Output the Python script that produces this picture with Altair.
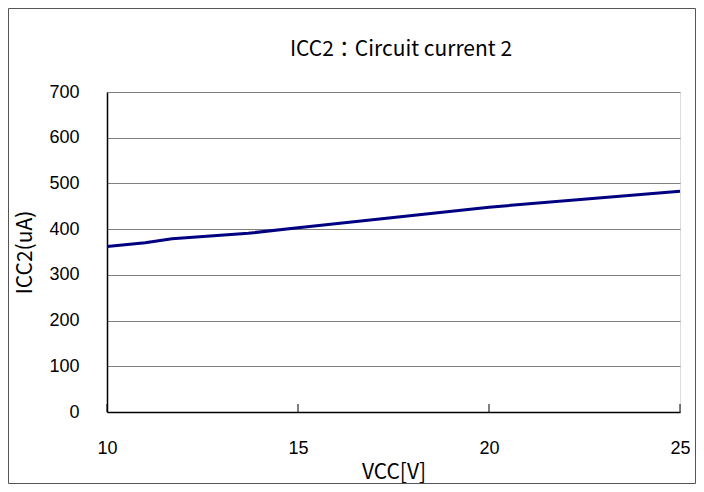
import altair as alt
import pandas as pd

vcc = [10, 11, 11.7, 13.7, 15, 20, 25]
icc2 = [362, 370, 379, 391, 403, 448, 483]
x_ticks = [10, 15, 20, 25]
y_ticks = [0, 100, 200, 300, 400, 500, 600, 700]
title_text = "ICC2：Circuit current 2"

df = pd.DataFrame({"VCC": vcc, "ICC2": icc2})
ticks_df = pd.DataFrame({"VCC": x_ticks})

W, H = 573, 320
PAD_L, PAD_T, PAD_R, PAD_B = 99, 84, 16, 72

xs = alt.Scale(domain=[10, 25], nice=False)
ys = alt.Scale(domain=[0, 700], nice=False)

line = alt.Chart(df).mark_line(color="#000080", strokeWidth=3).encode(
    x=alt.X("VCC:Q", scale=xs, axis=alt.Axis(
        values=x_ticks, title="VCC[V]", grid=False, ticks=False,
        labelPadding=27, titlePadding=4, labelFlush=False,
        domainColor="#000000", domainWidth=1.5,
        labelFont="Liberation Sans", labelFontSize=18, labelColor="#000000",
        titleFont="Noto Sans CJK JP", titleFontSize=21, titleFontWeight="normal",
        titleColor="#000000")),
    y=alt.Y("ICC2:Q", scale=ys, axis=alt.Axis(
        values=y_ticks, title="ICC2(uA)", grid=True, gridColor="#808080",
        gridWidth=1.2, ticks=False, labelPadding=28, titlePadding=13,
        labelFlush=False, domainColor="#000000", domainWidth=1.5,
        labelFont="Liberation Sans", labelFontSize=18, labelColor="#000000",
        titleFont="Noto Sans CJK JP", titleFontSize=21, titleFontWeight="normal",
        titleColor="#000000")),
)

inner_ticks = alt.Chart(ticks_df).mark_rule(color="#000000", strokeWidth=1).encode(
    x=alt.X("VCC:Q", scale=xs),
    y=alt.value(H),
    y2=alt.value(H - 8),
)

frame = alt.Chart(ticks_df.head(1)).mark_rect(
    fill=None, stroke="#555555", strokeWidth=1
).encode(
    x=alt.value(-PAD_L + 0.5),
    x2=alt.value(W + PAD_R - 0.5),
    y=alt.value(-PAD_T + 0.5),
    y2=alt.value(H + PAD_B - 0.5),
)

title = alt.Chart(ticks_df.head(1)).mark_text(
    font="Noto Sans CJK JP", fontSize=21, color="#000000",
    align="center", baseline="middle"
).encode(
    x=alt.value(294),
    y=alt.value(-42),
    text=alt.value(title_text),
)

chart = alt.layer(frame, line, inner_ticks, title).properties(
    width=W,
    height=H,
    autosize=alt.AutoSizeParams(type="none"),
    padding={"left": PAD_L, "top": PAD_T, "right": PAD_R, "bottom": PAD_B},
).configure_view(stroke="#808080", strokeWidth=1.2).configure(background="white")

chart.save("out.html", embed_options={"renderer": "svg", "actions": False})
